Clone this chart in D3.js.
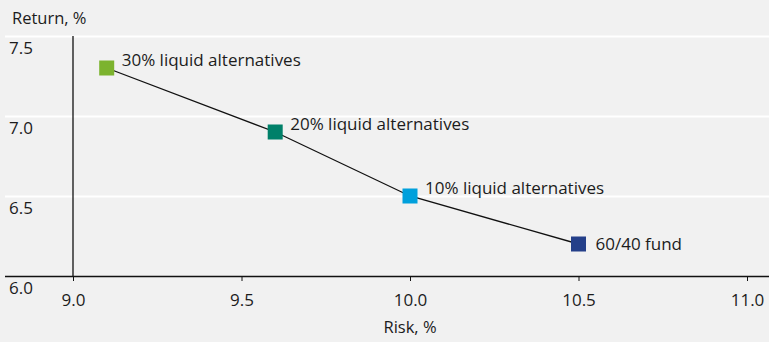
<!DOCTYPE html>
<html>
<head>
<meta charset="utf-8">
<script src="https://cdn.jsdelivr.net/npm/d3@7"></script>
<style>
  html, body { margin: 0; padding: 0; background: #f1f1f1; }
  svg { display: block; }
  text { font-family: "Open Sans", "Noto Sans", sans-serif; fill: #1c1c1c; }
</style>
</head>
<body>
<svg id="chart" width="769" height="342"></svg>
<script>
// Portfolio mixes: risk vs return
const portfolios = ["30% liquid alternatives", "20% liquid alternatives", "10% liquid alternatives", "60/40 fund"];
const risk = [9.1, 9.6, 10.0, 10.5];
const returns = [7.3, 6.9, 6.5, 6.2];
const colors = ["#7cb32e", "#008069", "#00a0dc", "#243f89"];
const xTicks = [9.0, 9.5, 10.0, 10.5, 11.0];
const yTicks = [6.0, 6.5, 7.0, 7.5];
const xTitle = "Risk, %";
const yTitle = "Return, %";

const svg = d3.select("#chart");
const W = 769, H = 342;

const x = d3.scaleLinear().domain([9.0, 11.0]).range([73, 747]);
const y = d3.scaleLinear().domain([6.0, 7.5]).range([276, 36]);

svg.append("rect").attr("width", W).attr("height", H).attr("fill", "#f1f1f1");

// horizontal white gridlines
svg.append("g").selectAll("line")
  .data(yTicks.filter(d => d > 6.0))
  .join("line")
  .attr("x1", 5).attr("x2", W)
  .attr("y1", d => Math.round(y(d)) + 0.5).attr("y2", d => Math.round(y(d)) + 0.5)
  .attr("stroke", "#ffffff").attr("stroke-width", 2);

// y tick labels sit just beneath their gridline
svg.append("g").selectAll("text")
  .data(yTicks)
  .join("text")
  .attr("x", 9)
  .attr("y", d => y(d) + 18)
  .attr("font-size", 17)
  .text(d => d3.format(".1f")(d));

// x axis
const xAxis = d3.axisBottom(x).tickValues(xTicks).tickFormat(d3.format(".1f")).tickSize(5).tickSizeOuter(0);
const gx = svg.append("g").attr("transform", "translate(0,276)").call(xAxis);
gx.select(".domain").remove();
gx.selectAll(".tick line").attr("stroke", "#111");
gx.selectAll(".tick text").attr("font-size", 17).attr("dy", "1.3em")
  .attr("font-family", "'Open Sans', 'Noto Sans', sans-serif").attr("fill", "#1c1c1c");
svg.append("line").attr("x1", 5).attr("x2", W).attr("y1", 276.5).attr("y2", 276.5)
  .attr("stroke", "#111").attr("stroke-width", 1.3);

// y axis line
svg.append("line").attr("x1", x(9.0)).attr("x2", x(9.0)).attr("y1", y(7.5)).attr("y2", 276)
  .attr("stroke", "#111").attr("stroke-width", 1.3);

// titles
svg.append("text").attr("x", 12).attr("y", 24).attr("font-size", 16.5).text(yTitle);
svg.append("text").attr("x", x(10.0)).attr("y", 333).attr("text-anchor", "middle").attr("font-size", 16.5).text(xTitle);

// connecting line
const pts = risk.map((r, i) => ({ r, v: returns[i], name: portfolios[i], c: colors[i] }));
svg.append("path")
  .datum(pts)
  .attr("fill", "none").attr("stroke", "#111").attr("stroke-width", 1.3)
  .attr("d", d3.line().x(d => x(d.r)).y(d => y(d.v)));

// square markers
const s = 15;
svg.append("g").selectAll("rect")
  .data(pts)
  .join("rect")
  .attr("x", d => x(d.r) - s / 2).attr("y", d => y(d.v) - s / 2)
  .attr("width", s).attr("height", s)
  .attr("fill", d => d.c);

// point labels: the liquid-alternative labels sit slightly above their marker
svg.append("g").selectAll("text")
  .data(pts)
  .join("text")
  .attr("x", (d, i) => x(d.r) + (i === 3 ? 17 : 15))
  .attr("y", (d, i) => y(d.v) + (i === 3 ? 6 : -2))
  .attr("font-size", 17)
  .text(d => d.name);
</script>
</body>
</html>
